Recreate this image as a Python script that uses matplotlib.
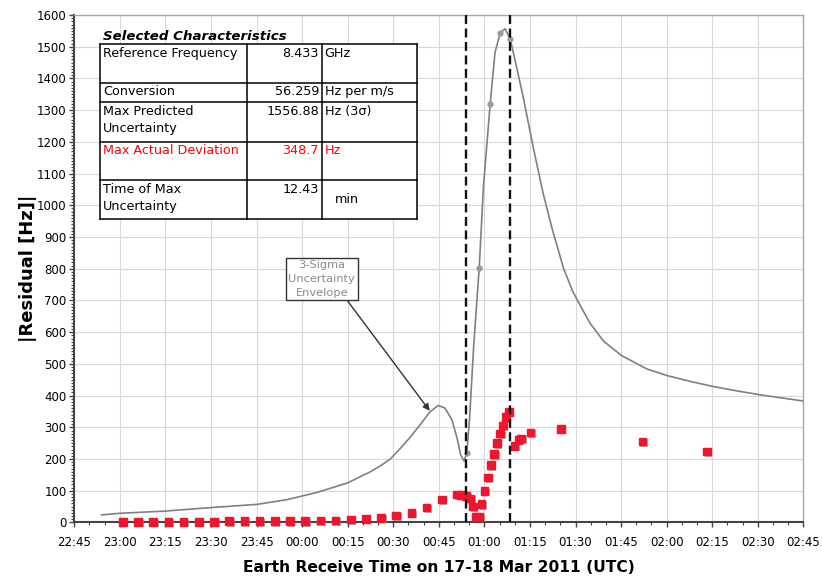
import datetime as dt
import matplotlib
matplotlib.use('Agg')
import matplotlib.pyplot as plt
import matplotlib.dates as mdates
import matplotlib.patheffects as pe
from matplotlib.ticker import MultipleLocator

# 3-sigma uncertainty envelope (Hz)
env_times = ['22:54', '23:00', '23:15', '23:30', '23:45', '23:55', '00:05', '00:15', '00:22:30',
             '00:26', '00:29', '00:32', '00:35:30', '00:39', '00:42', '00:44:48', '00:47',
             '00:49:18', '00:51', '00:52:12', '00:53:18', '00:54:12', '00:55:06', '00:56:30',
             '00:58:18', '00:59:42', '01:01:54', '01:03:30', '01:05:12', '01:06:48', '01:08:30',
             '01:10:00', '01:12:48', '01:16:06', '01:19:24', '01:22:12', '01:26', '01:29',
             '01:31:30', '01:34:48', '01:39:12', '01:45:12', '01:53:30', '02:00:12', '02:07:42',
             '02:15:12', '02:23:06', '02:30:30', '02:38:24', '02:45']
env_vals = [24, 29, 36, 47, 57, 72, 95, 125, 160,
            180, 200, 230, 268, 310, 348, 369, 361,
            324, 266, 213, 194, 219, 324, 560,
            803, 1061, 1319, 1482, 1543, 1556.88, 1524,
            1462, 1340, 1182, 1035, 930, 803, 730,
            685, 628, 572, 526, 484, 463, 445,
            429, 415, 403, 392, 383]

# envelope sample points shown with markers
env_pt_times = ['00:54:12', '00:58:18', '01:01:54', '01:05:12', '01:08:30']
env_pt_vals = [219, 803, 1319, 1543, 1524]

# measured |residual| (Hz)
res_times = ['23:01', '23:06', '23:11', '23:16', '23:21', '23:26', '23:31', '23:36', '23:41',
             '23:46', '23:51', '23:56', '00:01', '00:06', '00:11', '00:16', '00:21', '00:26',
             '00:31', '00:36', '00:41', '00:46', '00:51', '00:52:18', '00:54', '00:55:18',
             '00:56:12', '00:57:18', '00:58:18', '00:59:06', '01:00', '01:01:06', '01:02:06',
             '01:03:12', '01:04:06', '01:05:12', '01:06:06', '01:07:06', '01:08', '01:09:54',
             '01:11:12', '01:12:06', '01:15:12', '01:25:12', '01:52:06', '02:13:12']
res_vals = [2, 2, 2, 2, 2, 2, 2, 4, 4,
            4, 4, 4, 4, 6, 6, 9, 12, 15,
            22, 30, 47, 72, 88, 87, 84, 76,
            50, 18, 18, 58, 100, 142, 181,
            215, 250, 280, 306, 332, 348.7, 242,
            261, 265, 284, 295, 255, 224]

event_times = ['00:53:48', '01:08:18']

tbl_labels = ['Reference Frequency', 'Conversion', 'Max Predicted\nUncertainty',
              'Max Actual Deviation', 'Time of Max\nUncertainty']
tbl_values = ['8.433', '56.259', '1556.88', '348.7', '12.43']
tbl_units = ['GHz', 'Hz per m/s', 'Hz (3σ)', 'Hz', 'min']


def to_dt(s):
    parts = [int(p) for p in s.split(':')]
    h, m = parts[0], parts[1]
    sec = parts[2] if len(parts) > 2 else 0
    day = 17 if h >= 12 else 18
    return dt.datetime(2011, 3, day, h, m, sec)


fig = plt.figure(figsize=(8.22, 5.81), dpi=100)
ax = fig.add_axes([0.0904, 0.1007, 0.8869, 0.8735])

ax.grid(True, color='#d8d8d8', lw=0.8)
ax.set_axisbelow(True)

ax.plot([to_dt(t) for t in env_times], env_vals, color='#808080', lw=1.2, zorder=3)
ax.plot([to_dt(t) for t in env_pt_times], env_pt_vals, 'o', color='#9a9a9a', ms=3.5, zorder=3)

ax.plot([to_dt(t) for t in res_times], res_vals, 's', color='#f0142d', ms=5.5, mec='#f0142d',
        zorder=4, clip_on=False,
        path_effects=[pe.SimplePatchShadow(offset=(1.2, -1.2), shadow_rgbFace='0.55', alpha=0.7),
                      pe.Normal()])

for t in event_times:
    ax.axvline(to_dt(t), color='#111111', lw=1.7, dashes=(3.8, 1.9), zorder=5)

ax.set_xlim(to_dt('22:45'), to_dt('02:45'))
ax.set_ylim(0, 1600)
ax.xaxis.set_major_locator(mdates.MinuteLocator(byminute=[0, 15, 30, 45]))
ax.xaxis.set_minor_locator(mdates.MinuteLocator(byminute=range(0, 60, 5)))
ax.xaxis.set_major_formatter(mdates.DateFormatter('%H:%M'))
ax.yaxis.set_major_locator(MultipleLocator(100))
ax.yaxis.set_minor_locator(MultipleLocator(10))
ax.tick_params(which='major', length=3.5, width=1, color='#444444', labelsize=8.5, pad=2)
ax.tick_params(which='minor', length=2.5, width=0.8, color='#444444')
ax.tick_params(axis='x', which='major', pad=6)

for s in ['left', 'bottom']:
    ax.spines[s].set_color('#444444')
    ax.spines[s].set_linewidth(1.5)
for s in ['top', 'right']:
    ax.spines[s].set_color('#a8a8a8')
    ax.spines[s].set_linewidth(1.0)

ax.set_xlabel('Earth Receive Time on 17-18 Mar 2011 (UTC)', fontsize=11.2, fontweight='bold')
ax.set_ylabel('|Residual [Hz]|', fontsize=13, fontweight='bold')
ax.xaxis.set_label_coords(0.5, -0.074)
ax.yaxis.set_label_coords(-0.051, 0.5)

# annotation for the envelope curve
ax.annotate('3-Sigma\nUncertainty\nEnvelope', xy=(to_dt('00:42:00'), 352),
            xytext=(0.3394, 0.4798), textcoords='axes fraction',
            ha='center', va='center', fontsize=8.2, color='#8a8a8a', linespacing=1.45,
            bbox=dict(boxstyle='square,pad=0.25', fc='white', ec='#333333', lw=1),
            arrowprops=dict(arrowstyle='-|>', color='#333333', lw=1, mutation_scale=10,
                            relpos=(0.85, 0), shrinkA=0, shrinkB=0),
            zorder=6)

# characteristics table
col_x = [0.03525, 0.2373, 0.3402, 0.4705]
row_y = [0.9429, 0.8666, 0.8280, 0.7504, 0.6749, 0.5975]
ax.text(0.039, 0.9586, 'Selected Characteristics', transform=ax.transAxes, fontsize=9.6,
        fontweight='bold', style='italic', va='center', ha='left', zorder=7)
ax.add_patch(plt.Rectangle((col_x[0], row_y[-1]), col_x[-1] - col_x[0], row_y[0] - row_y[-1],
                           transform=ax.transAxes, fc='white', ec='none', zorder=6))
for y in row_y:
    ax.plot([col_x[0], col_x[-1]], [y, y], transform=ax.transAxes, color='black', lw=1.1,
            zorder=7, solid_capstyle='projecting')
for x in col_x:
    ax.plot([x, x], [row_y[0], row_y[-1]], transform=ax.transAxes, color='black', lw=1.1,
            zorder=7, solid_capstyle='projecting')
for i in range(len(tbl_labels)):
    col = 'red' if i == 3 else 'black'
    top = row_y[i] - 0.005
    ax.text(0.0394, top, tbl_labels[i], transform=ax.transAxes, fontsize=9.2, color=col,
            va='top', ha='left', linespacing=1.4, zorder=8)
    ax.text(0.3357, top, tbl_values[i], transform=ax.transAxes, fontsize=9.2, color=col,
            va='top', ha='right', zorder=8)
    if i == 4:
        ax.text(0.3575, (row_y[i] + row_y[i + 1]) / 2, tbl_units[i], transform=ax.transAxes,
                fontsize=9.2, color=col, va='center', ha='left', zorder=8)
    else:
        ax.text(0.3432, top, tbl_units[i], transform=ax.transAxes, fontsize=9.2, color=col,
                va='top', ha='left', zorder=8)

fig.savefig('out.png', dpi=100)
